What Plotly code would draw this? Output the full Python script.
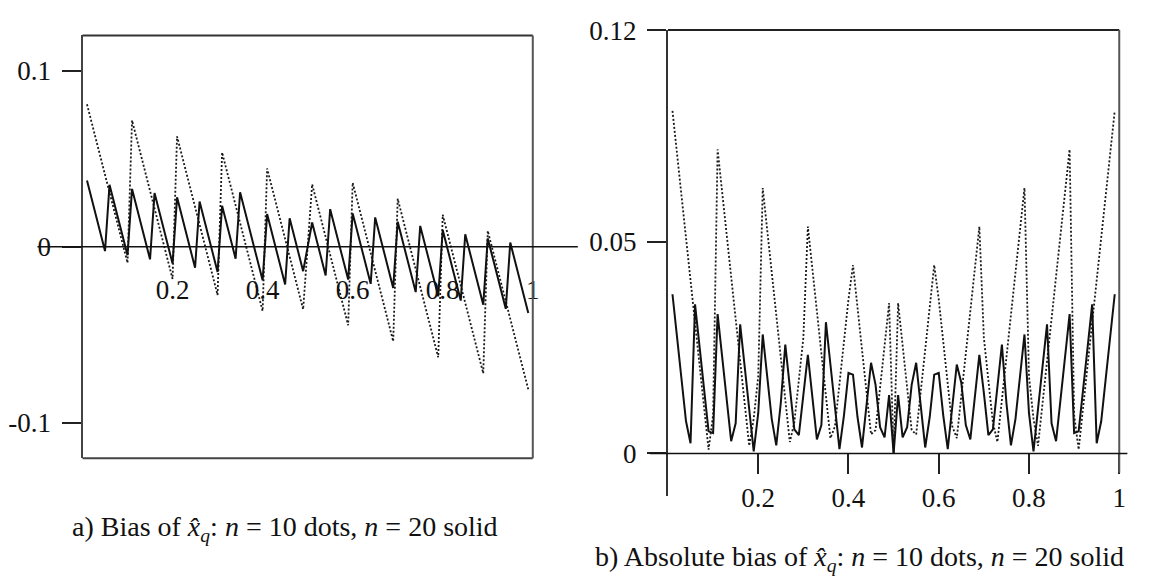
import plotly.graph_objects as go

# ---------------- data ----------------
Q = [0.01, 0.02, 0.03, 0.04, 0.05, 0.06, 0.07, 0.08, 0.09, 0.10,
     0.11, 0.12, 0.13, 0.14, 0.15, 0.16, 0.17, 0.18, 0.19, 0.20,
     0.21, 0.22, 0.23, 0.24, 0.25, 0.26, 0.27, 0.28, 0.29, 0.30,
     0.31, 0.32, 0.33, 0.34, 0.35, 0.36, 0.37, 0.38, 0.39, 0.40,
     0.41, 0.42, 0.43, 0.44, 0.45, 0.46, 0.47, 0.48, 0.49, 0.50,
     0.51, 0.52, 0.53, 0.54, 0.55, 0.56, 0.57, 0.58, 0.59, 0.60,
     0.61, 0.62, 0.63, 0.64, 0.65, 0.66, 0.67, 0.68, 0.69, 0.70,
     0.71, 0.72, 0.73, 0.74, 0.75, 0.76, 0.77, 0.78, 0.79, 0.80,
     0.81, 0.82, 0.83, 0.84, 0.85, 0.86, 0.87, 0.88, 0.89, 0.90,
     0.91, 0.92, 0.93, 0.94, 0.95, 0.96, 0.97, 0.98, 0.99]

# a) bias, n = 10 (dots)
BIAS_N10 = [0.0809, 0.0709, 0.0609, 0.0509, 0.0409, 0.0309, 0.0209, 0.0109, 0.0009, -0.0091,
            0.0718, 0.0618, 0.0518, 0.0418, 0.0318, 0.0218, 0.0118, 0.0018, -0.0082, -0.0182,
            0.0627, 0.0527, 0.0427, 0.0327, 0.0227, 0.0127, 0.0027, -0.0073, -0.0173, -0.0273,
            0.0536, 0.0436, 0.0336, 0.0236, 0.0136, 0.0036, -0.0064, -0.0164, -0.0264, -0.0364,
            0.0445, 0.0345, 0.0245, 0.0145, 0.0045, -0.0055, -0.0155, -0.0255, -0.0355, 0.0,
            0.0355, 0.0255, 0.0155, 0.0055, -0.0045, -0.0145, -0.0245, -0.0345, -0.0445, 0.0364,
            0.0264, 0.0164, 0.0064, -0.0036, -0.0136, -0.0236, -0.0336, -0.0436, -0.0536, 0.0273,
            0.0173, 0.0073, -0.0027, -0.0127, -0.0227, -0.0327, -0.0427, -0.0527, -0.0627, 0.0182,
            0.0082, -0.0018, -0.0118, -0.0218, -0.0318, -0.0418, -0.0518, -0.0618, -0.0718, 0.0091,
            -0.0009, -0.0109, -0.0209, -0.0309, -0.0409, -0.0509, -0.0609, -0.0709, -0.0809]

# a) bias, n = 20 (solid)
BIAS_N20 = [0.0376, 0.0276, 0.0176, 0.0076, -0.0024, 0.0352, 0.0252, 0.0152, 0.0052, -0.0048,
            0.0329, 0.0229, 0.0129, 0.0029, -0.0071, 0.0305, 0.0205, 0.0105, 0.0005, -0.0095,
            0.0281, 0.0181, 0.0081, -0.0019, -0.0119, 0.0257, 0.0157, 0.0057, -0.0043, -0.0143,
            0.0233, 0.0133, 0.0033, -0.0067, 0.0310, 0.0210, 0.0110, 0.0010, -0.0090, -0.0190,
            0.0186, 0.0086, -0.0014, -0.0114, -0.0214, 0.0162, 0.0062, -0.0038, -0.0138, 0.0,
            0.0138, 0.0038, -0.0062, -0.0162, 0.0214, 0.0114, 0.0014, -0.0086, -0.0186, 0.0190,
            0.0090, -0.0010, -0.0110, -0.0210, 0.0167, 0.0067, -0.0033, -0.0133, -0.0233, 0.0143,
            0.0043, -0.0057, -0.0157, -0.0257, 0.0119, 0.0019, -0.0081, -0.0181, -0.0281, 0.0095,
            -0.0005, -0.0105, -0.0205, -0.0305, 0.0071, -0.0029, -0.0129, -0.0229, -0.0329, 0.0048,
            -0.0052, -0.0152, -0.0252, -0.0352, 0.0024, -0.0076, -0.0176, -0.0276, -0.0376]

# b) absolute bias, n = 10 (dots)
ABS_N10 = [0.0809, 0.0709, 0.0609, 0.0509, 0.0409, 0.0309, 0.0209, 0.0109, 0.0009, 0.0091,
           0.0718, 0.0618, 0.0518, 0.0418, 0.0318, 0.0218, 0.0118, 0.0018, 0.0082, 0.0182,
           0.0627, 0.0527, 0.0427, 0.0327, 0.0227, 0.0127, 0.0027, 0.0073, 0.0173, 0.0273,
           0.0536, 0.0436, 0.0336, 0.0236, 0.0136, 0.0036, 0.0064, 0.0164, 0.0264, 0.0364,
           0.0445, 0.0345, 0.0245, 0.0145, 0.0045, 0.0055, 0.0155, 0.0255, 0.0355, 0.0,
           0.0355, 0.0255, 0.0155, 0.0055, 0.0045, 0.0145, 0.0245, 0.0345, 0.0445, 0.0364,
           0.0264, 0.0164, 0.0064, 0.0036, 0.0136, 0.0236, 0.0336, 0.0436, 0.0536, 0.0273,
           0.0173, 0.0073, 0.0027, 0.0127, 0.0227, 0.0327, 0.0427, 0.0527, 0.0627, 0.0182,
           0.0082, 0.0018, 0.0118, 0.0218, 0.0318, 0.0418, 0.0518, 0.0618, 0.0718, 0.0091,
           0.0009, 0.0109, 0.0209, 0.0309, 0.0409, 0.0509, 0.0609, 0.0709, 0.0809]

# b) absolute bias, n = 20 (solid)
ABS_N20 = [0.0376, 0.0276, 0.0176, 0.0076, 0.0024, 0.0352, 0.0252, 0.0152, 0.0052, 0.0048,
           0.0329, 0.0229, 0.0129, 0.0029, 0.0071, 0.0305, 0.0205, 0.0105, 0.0005, 0.0095,
           0.0281, 0.0181, 0.0081, 0.0019, 0.0119, 0.0257, 0.0157, 0.0057, 0.0043, 0.0143,
           0.0233, 0.0133, 0.0033, 0.0067, 0.0310, 0.0210, 0.0110, 0.0010, 0.0090, 0.0190,
           0.0186, 0.0086, 0.0014, 0.0114, 0.0214, 0.0162, 0.0062, 0.0038, 0.0138, 0.0,
           0.0138, 0.0038, 0.0062, 0.0162, 0.0214, 0.0114, 0.0014, 0.0086, 0.0186, 0.0190,
           0.0090, 0.0010, 0.0110, 0.0210, 0.0167, 0.0067, 0.0033, 0.0133, 0.0233, 0.0143,
           0.0043, 0.0057, 0.0157, 0.0257, 0.0119, 0.0019, 0.0081, 0.0181, 0.0281, 0.0095,
           0.0005, 0.0105, 0.0205, 0.0305, 0.0071, 0.0029, 0.0129, 0.0229, 0.0329, 0.0048,
           0.0052, 0.0152, 0.0252, 0.0352, 0.0024, 0.0076, 0.0176, 0.0276, 0.0376]

X_TICKS = [0.2, 0.4, 0.6, 0.8, 1]
X_TICK_TEXT = ["0.2", "0.4", "0.6", "0.8", "1"]
Y_TICKS_A = [-0.1, 0, 0.1]
Y_TICK_TEXT_A = ["-0.1", "0", "0.1"]
Y_TICKS_B = [0, 0.05, 0.1]
Y_TICK_TEXT_B = ["0", "0.05", "0.12"]

CAPTION_A = "a) Bias of <i>x\u0302</i><sub><i>q</i></sub>: <i>n</i> = 10 dots, <i>n</i> = 20 solid"
CAPTION_B = "b) Absolute bias of <i>x\u0302</i><sub><i>q</i></sub>: <i>n</i> = 10 dots, <i>n</i> = 20 solid"

# ---------------- layout helpers ----------------
W, H = 1167, 580


def fx(p):
    return p / W


def fy(p):
    return 1 - p / H


FONT = dict(family="Liberation Serif, Times New Roman, serif", size=27, color="#111111")
CAP_FONT = dict(family="Liberation Serif, Times New Roman, serif", size=28, color="#111111")
DOT = dict(color="#1a1a1a", width=1.8, dash="2px,2px")
SOLID = dict(color="#111111", width=2)

fig = go.Figure()
fig.add_trace(go.Scatter(x=Q, y=BIAS_N10, mode="lines", line=DOT, xaxis="x", yaxis="y"))
fig.add_trace(go.Scatter(x=Q, y=BIAS_N20, mode="lines", line=SOLID, xaxis="x", yaxis="y"))
fig.add_trace(go.Scatter(x=Q, y=ABS_N10, mode="lines", line=DOT, xaxis="x2", yaxis="y2"))
fig.add_trace(go.Scatter(x=Q, y=ABS_N20, mode="lines", line=SOLID, xaxis="x2", yaxis="y2"))

common = dict(showgrid=False, zeroline=False, tickfont=FONT)

fig.update_layout(
    width=W, height=H, margin=dict(l=0, r=0, t=0, b=0),
    paper_bgcolor="white", plot_bgcolor="white", showlegend=False,
    xaxis=dict(domain=[fx(83), fx(536)], range=[0, 1], anchor="free", position=fy(238),
               showline=False, tickvals=X_TICKS, ticktext=X_TICK_TEXT,
               ticks="outside", ticklen=19, tickcolor="rgba(0,0,0,0)", **common),
    yaxis=dict(domain=[fy(455), fy(21)], range=[-0.12, 0.12], anchor="x",
               showline=True, linecolor="#444444", linewidth=2,
               tickvals=Y_TICKS_A, ticktext=Y_TICK_TEXT_A,
               ticks="outside", ticklen=19, tickwidth=1.5, tickcolor="#222222",
               ticklabelstandoff=5, **common),
    xaxis2=dict(domain=[fx(672), fx(1126)], range=[0, 1], anchor="free", position=fy(450),
                showline=False, tickvals=X_TICKS, ticktext=X_TICK_TEXT,
                ticks="outside", ticklen=20, tickwidth=1.5, tickcolor="#222222", **common),
    yaxis2=dict(domain=[fy(493.5), fy(15.5)], range=[-0.01, 0.1], anchor="x2",
                showline=True, linecolor="#333333", linewidth=2,
                tickvals=Y_TICKS_B, ticktext=Y_TICK_TEXT_B,
                ticks="outside", ticklen=19, tickwidth=1.5, tickcolor="#222222",
                ticklabelstandoff=5, **common),
)

shapes = [
    # panel a frame
    dict(type="line", xref="x domain", yref="y domain", x0=0, x1=1, y0=1, y1=1,
         line=dict(color="#333333", width=2)),
    dict(type="line", xref="x domain", yref="y domain", x0=0, x1=1, y0=0, y1=0,
         line=dict(color="#444444", width=2)),
    dict(type="line", xref="x domain", yref="y domain", x0=1, x1=1, y0=0, y1=1,
         line=dict(color="#555555", width=2)),
    # panel a horizontal axis through 0
    dict(type="line", xref="x domain", yref="y domain", x0=-0.1, x1=1.1, y0=0.5, y1=0.5,
         line=dict(color="#111111", width=1.5)),
    # panel b frame
    dict(type="line", xref="x2 domain", yref="y2 domain", x0=0, x1=1, y0=1, y1=1,
         line=dict(color="#222222", width=2)),
    dict(type="line", xref="x2 domain", yref="y2 domain", x0=1, x1=1, y0=(493.5 - 470) / 478, y1=1,
         line=dict(color="#555555", width=2)),
    # panel b horizontal axis through 0
    dict(type="line", xref="x2 domain", yref="y2 domain", x0=-0.04, x1=1.018,
         y0=0.01 / 0.11, y1=0.01 / 0.11, line=dict(color="#111111", width=1.5)),
]
fig.update_layout(shapes=shapes)

fig.add_annotation(text=CAPTION_A, xref="paper", yref="paper", x=fx(70), y=fy(527),
                   xanchor="left", yanchor="middle", showarrow=False, font=CAP_FONT)
fig.add_annotation(text=CAPTION_B, xref="paper", yref="paper", x=fx(597), y=fy(558),
                   xanchor="left", yanchor="middle", showarrow=False, font=CAP_FONT)

fig.write_html("out.html")
